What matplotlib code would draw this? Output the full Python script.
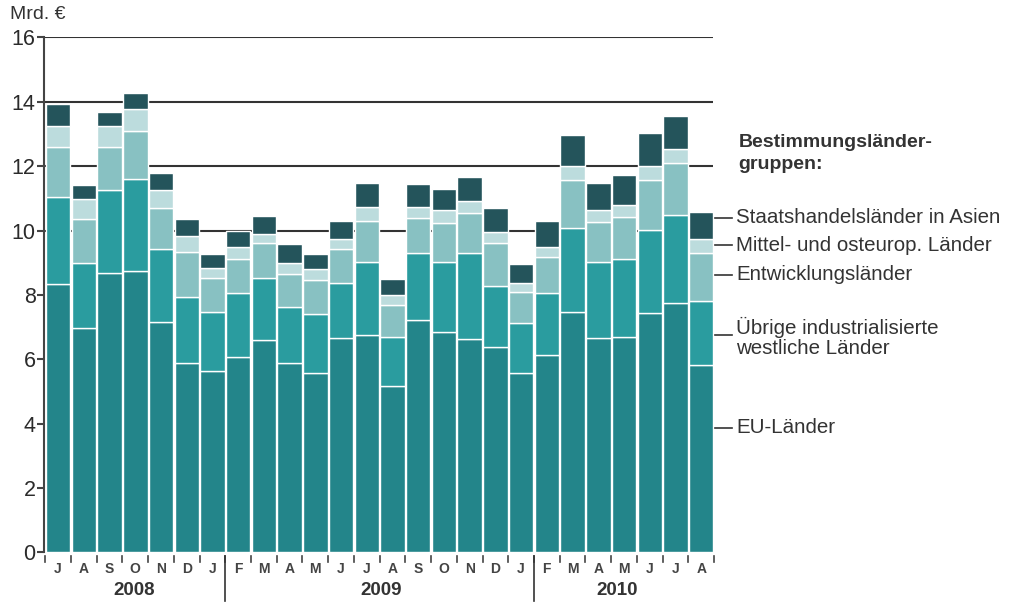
import numpy as np
import matplotlib.pyplot as plt

plt.rcParams['font.family'] = ['Liberation Sans', 'DejaVu Sans']

months = ['J', 'A', 'S', 'O', 'N', 'D', 'J', 'F', 'M', 'A', 'M', 'J', 'J',
          'A', 'S', 'O', 'N', 'D', 'J', 'F', 'M', 'A', 'M', 'J', 'J', 'A']
years = ['2008', '2009', '2010']

# Mrd. Euro per month, stacked from bottom to top
eu = [8.34, 6.96, 8.69, 8.75, 7.15, 5.88, 5.65, 6.06, 6.60, 5.88, 5.59, 6.65, 6.76,
      5.17, 7.22, 6.86, 6.62, 6.37, 5.59, 6.14, 7.48, 6.65, 6.70, 7.43, 7.74, 5.82]
uebrige = [2.69, 2.02, 2.57, 2.85, 2.27, 2.07, 1.83, 1.99, 1.92, 1.76, 1.82, 1.73, 2.27,
           1.53, 2.07, 2.17, 2.67, 1.91, 1.55, 1.91, 2.59, 2.37, 2.42, 2.59, 2.74, 2.00]
entw = [1.57, 1.39, 1.34, 1.49, 1.29, 1.39, 1.04, 1.07, 1.09, 1.01, 1.06, 1.04, 1.27,
        0.99, 1.09, 1.22, 1.25, 1.33, 0.96, 1.14, 1.49, 1.25, 1.31, 1.54, 1.61, 1.49]
moe = [0.65, 0.60, 0.65, 0.70, 0.55, 0.49, 0.31, 0.36, 0.27, 0.35, 0.33, 0.31, 0.42,
       0.31, 0.36, 0.39, 0.38, 0.36, 0.26, 0.31, 0.46, 0.37, 0.37, 0.45, 0.45, 0.44]
asien = [0.67, 0.45, 0.43, 0.49, 0.52, 0.52, 0.44, 0.51, 0.58, 0.57, 0.47, 0.57, 0.76,
         0.49, 0.70, 0.66, 0.74, 0.72, 0.60, 0.80, 0.95, 0.84, 0.92, 1.03, 1.03, 0.84]

series = [eu, uebrige, entw, moe, asien]
colors = ['#23858a', '#2a9c9f', '#88c1c2', '#bcdcdd', '#24545b']
labels = ['EU-Länder', 'Übrige industrialisierte\nwestliche Länder', 'Entwicklungsländer',
          'Mittel- und osteurop. Länder', 'Staatshandelsländer in Asien']
label_y = [3.87, 6.69, 8.62, 9.55, 10.39]

fig = plt.figure(figsize=(10.11, 6.06), dpi=100)
ax = fig.add_axes([0.0435, 0.0883, 0.662, 0.85])

x = np.arange(len(months))
bottom = np.zeros(len(months))
for vals, c in zip(series, colors):
    ax.bar(x, vals, bottom=bottom, width=0.95, color=c, edgecolor='white',
           linewidth=1.0, zorder=3)
    bottom += np.array(vals)

for g in [10, 12, 14, 16]:
    ax.axhline(g, color='#333333', linewidth=1.5, zorder=1)

ax.set_xlim(-0.55, 25.47)
ax.set_ylim(0, 16)
for s in ['top', 'right', 'bottom']:
    ax.spines[s].set_visible(False)
ax.spines['left'].set_color('#444444')
ax.spines['left'].set_linewidth(1.5)
ax.set_yticks(range(0, 17, 2))
ax.tick_params(axis='y', length=5, width=1.5, color='#444444', labelsize=15.5,
               labelcolor='#2b2b2b', pad=1)
ax.set_xticks(x)
ax.set_xticklabels(months, fontsize=10, fontweight='bold', color='#444444')
ax.tick_params(axis='x', length=0, pad=7)

# small tick marks between months
for b in np.arange(-0.5, 26, 1):
    ax.plot([b, b], [-0.12, -0.3], color='#444444', lw=1.2, clip_on=False)

# year separators
for b in [6.5, 18.5]:
    ax.plot([b, b], [-0.12, -1.5], color='#333333', lw=1.2, clip_on=False)
ax.text(2.95, -1.18, years[0], ha='center', va='center', fontsize=13.5,
        fontweight='bold', color='#333333')
ax.text(12.55, -1.18, years[1], ha='center', va='center', fontsize=13.5,
        fontweight='bold', color='#333333')
ax.text(21.75, -1.18, years[2], ha='center', va='center', fontsize=13.5,
        fontweight='bold', color='#333333')

ax.text(-1.87, 16.7, 'Mrd. €', ha='left', va='center', fontsize=14, color='#333333')

# labels on the right
ax.text(26.45, 12.72, 'Bestimmungsländer-', ha='left', va='center', fontsize=14,
        fontweight='bold', color='#333333')
ax.text(26.45, 12.04, 'gruppen:', ha='left', va='center', fontsize=14,
        fontweight='bold', color='#333333')
for lab, ly in zip(labels, label_y):
    ax.text(26.35, ly, lab, ha='left', va='center', fontsize=14.8, color='#333333',
            linespacing=1.05)
    ly_line = ly + 0.08 if '\n' in lab else ly
    ax.plot([25.55, 26.2], [ly_line, ly_line], color='#333333', lw=1.2, clip_on=False)

plt.savefig('out.png', dpi=100)
